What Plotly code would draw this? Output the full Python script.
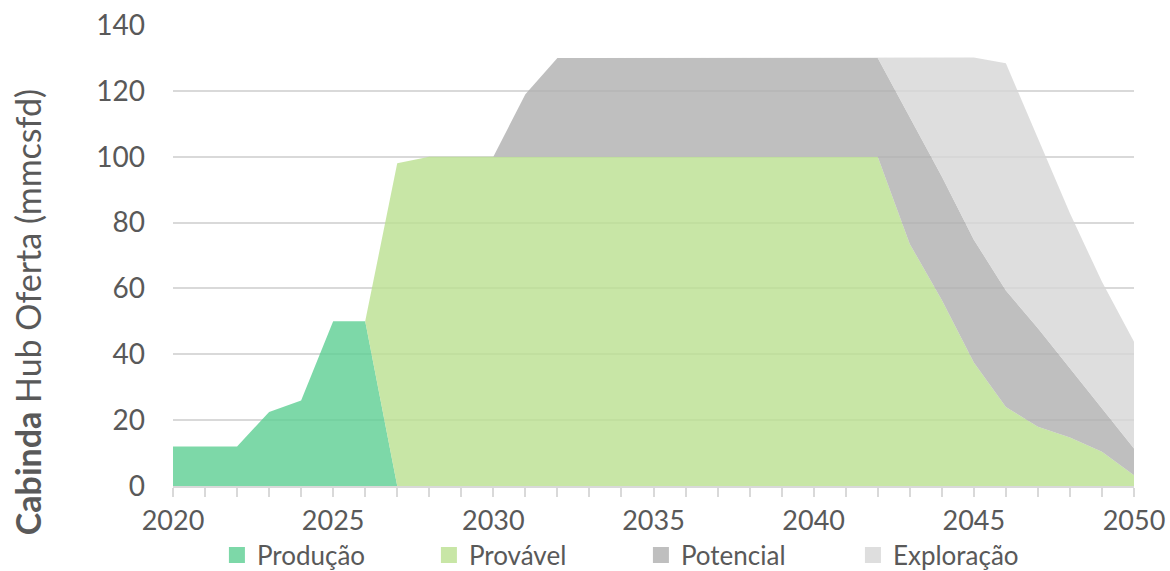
import plotly.graph_objects as go

years = list(range(2020, 2051))

# Stacked supply components (mmcsfd), one value per year 2020-2050
producao = [12, 12, 12, 22.5, 26, 50, 50] + [0] * 24
provavel = ([0] * 7 + [98] + [100] * 15 +
            [73.5, 56.5, 37.5, 24, 18, 14.7, 10.4, 3.3])
potencial = ([0] * 11 + [19] + [30] * 11 +
             [38.5, 37.5, 37.3, 35.4, 29.9, 21, 13.2, 8.1])
exploracao = ([0] * 23 +
              [18, 36, 55.3, 69, 57.5, 47.1, 38.4, 32.4])

series = [
    ("Produção", producao, "rgba(93,206,146,0.8)", "rgb(125,216,168)"),
    ("Provável", provavel, "rgba(186,224,144,0.8)", "rgb(200,230,166)"),
    ("Potencial", potencial, "rgba(175,175,175,0.8)", "rgb(191,191,191)"),
    ("Exploração", exploracao, "rgba(214,214,214,0.8)", "rgb(222,222,222)"),
]

y_ticks = [0, 20, 40, 60, 80, 100, 120, 140]
x_ticks = [2020, 2025, 2030, 2035, 2040, 2045, 2050]

FONT = "Lato"
TEXT = "#595959"
FS = 28

fig = go.Figure()
for name, vals, fill, solid in series:
    fig.add_trace(go.Scatter(
        x=years, y=vals, name=name, stackgroup="supply", mode="lines",
        line=dict(width=0, color=solid), fillcolor=fill, showlegend=False,
        hoverinfo="x+y+name",
    ))

# legend entries with square swatches
for name, vals, fill, solid in series:
    fig.add_trace(go.Scatter(
        x=[None], y=[None], name=name, mode="markers",
        marker=dict(symbol="square", size=17, color=solid),
        showlegend=True,
    ))

# rotated axis title, with the first word in bold
fig.add_annotation(
    text="<b>Cabinda</b> Hub Oferta (mmcsfd)",
    textangle=-90, xref="paper", yref="paper",
    x=-0.152, y=0.377, xanchor="center", yanchor="middle",
    showarrow=False, font=dict(family=FONT, size=34, color=TEXT),
)

fig.update_layout(
    width=1170, height=571,
    margin=dict(l=173, r=36, t=25, b=85),
    paper_bgcolor="white", plot_bgcolor="white",
    font=dict(family=FONT, size=FS, color=TEXT),
    showlegend=True,
    legend=dict(
        orientation="h", xref="container", yref="container",
        x=0.1854, xanchor="left", y=0.028, yanchor="middle",
        font=dict(family=FONT, size=26, color=TEXT),
        entrywidth=167, entrywidthmode="pixels",
        itemsizing="trace", traceorder="normal",
        bgcolor="rgba(0,0,0,0)",
    ),
    xaxis=dict(
        range=[2020, 2050], tickvals=x_ticks, ticktext=[str(v) for v in x_ticks],
        showgrid=False, zeroline=False, automargin=False,
        showline=True, linecolor="#D9D9D9", linewidth=2,
        ticks="outside", ticklen=9, tickwidth=2, tickcolor="#D9D9D9",
        minor=dict(dtick=1, tick0=2020, ticks="outside", ticklen=9,
                   tickwidth=2, tickcolor="#D9D9D9", showgrid=False),
        tickfont=dict(family=FONT, size=27, color=TEXT),
        ticklabelstandoff=1,
        fixedrange=True,
    ),
    yaxis=dict(
        range=[0, 140], tickvals=y_ticks, automargin=False,
        showgrid=True, gridcolor="#D9D9D9", gridwidth=2,
        zeroline=False, showline=False, ticks="", ticklen=0,
        tickfont=dict(family=FONT, size=FS, color=TEXT),
        ticklabelstandoff=27,
        fixedrange=True,
    ),
)

fig.write_html("out.html")
